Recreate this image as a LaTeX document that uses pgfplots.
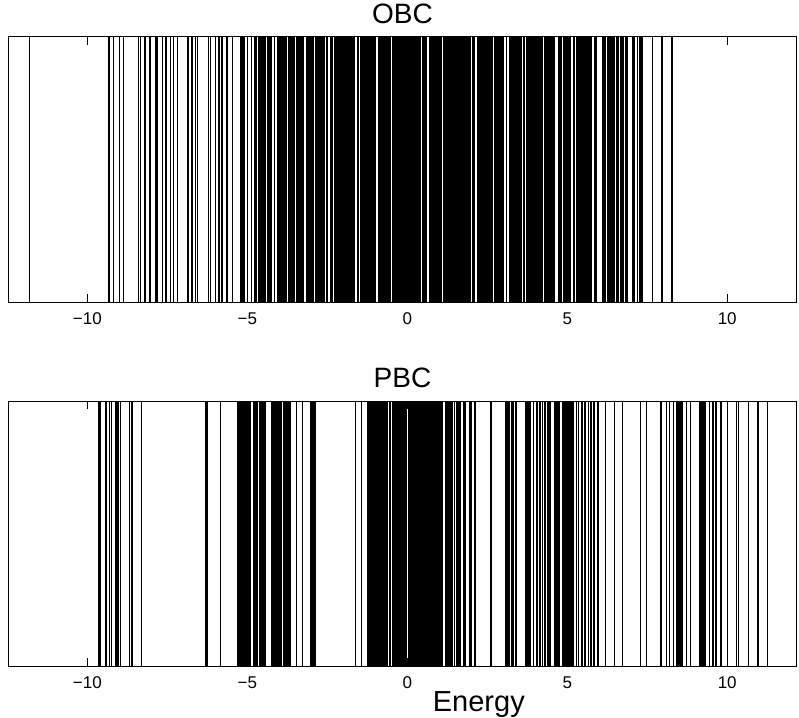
\documentclass[border=0pt]{standalone}
\usepackage{fontspec}
\setmainfont{Liberation Sans}
\usepackage{pgfplots}
\pgfplotsset{compat=1.18}
\pgfplotsset{
  spec/.style={
    scale only axis, width=393.5pt, height=132.5pt,
    xmin=-12.45, xmax=12.15, ymin=0, ymax=1,
    ytick=\empty,
    xtick={-10,-5,0,5,10},
    xticklabels={−10,−5,0,5,10},
    xtick align=inside, xtick pos=both,
    major tick length=4pt,
    axis on top,
    axis line style={line width=0.5pt},
    every tick/.style={black, line width=0.5pt},
    xticklabel style={font=\fontsize{8.5}{10}\selectfont, yshift=-2pt},
    title style={font=\fontsize{14}{16}\selectfont, yshift=-3pt},
  },
  iso/.style={ycomb, black, line width=0.7pt, mark=none},
  dense/.style={ycomb, black, line width=0.95pt, mark=none},
}
\begin{document}
\begin{tikzpicture}
\useasboundingbox (-4.5pt,-208pt) rectangle (395pt,151pt);
% ---------------- OBC ----------------
\begin{axis}[spec, at={(0,0)}, anchor=south west, title={OBC}]
\addplot[iso] coordinates {
(-11.80,1)(-9.33,1)(-9.18,1)(-9.00,1)(-8.88,1)(-8.40,1)(-8.34,1)(-8.20,1)
(-8.04,1)(-7.85,1)(-7.81,1)(-7.65,1)(-7.54,1)(-7.41,1)(-7.31,1)(-7.19,1)
(-6.85,1)(-6.73,1)(-6.62,1)(-6.56,1)(-6.21,1)(-6.16,1)(-6.00,1)(-5.88,1)
(-5.79,1)(-5.63,1)(-5.46,1)(-5.21,1)(-5.17,1)(-5.13,1)(-5.09,1)(-4.99,1)
(-4.87,1)(-4.78,1)(-4.73,1)
(6.10,1)(6.15,1)(6.20,1)(6.25,1)(6.30,1)(6.33,1)(6.40,1)(6.44,1)(6.48,1)
(6.53,1)(6.58,1)(6.61,1)(6.66,1)(6.70,1)(6.74,1)(6.83,1)(6.87,1)(7.04,1)
(7.09,1)(7.20,1)(7.27,1)(7.33,1)(7.36,1)(7.66,1)(7.96,1)(8.27,1)
};
\addplot[dense] coordinates {
(-4.65,1)(-4.60,1)(-4.55,1)(-4.50,1)(-4.45,1)(-4.35,1)(-4.30,1)(-4.25,1)
(-4.15,1)(-4.05,1)(-4.00,1)(-3.95,1)(-3.90,1)(-3.85,1)(-3.80,1)(-3.70,1)
(-3.65,1)(-3.60,1)(-3.55,1)(-3.45,1)(-3.40,1)(-3.35,1)(-3.30,1)(-3.25,1)
(-3.15,1)(-3.10,1)(-3.05,1)(-3.00,1)(-2.95,1)(-2.85,1)(-2.80,1)(-2.75,1)
(-2.70,1)(-2.65,1)(-2.60,1)(-2.50,1)(-2.40,1)(-2.35,1)(-2.25,1)(-2.20,1)
(-2.15,1)(-2.10,1)(-2.05,1)(-2.00,1)(-1.95,1)(-1.90,1)(-1.85,1)(-1.80,1)
(-1.75,1)(-1.70,1)(-1.65,1)(-1.55,1)(-1.45,1)(-1.40,1)(-1.35,1)(-1.30,1)
(-1.25,1)(-1.20,1)(-1.15,1)(-1.10,1)(-1.05,1)(-1.00,1)(-0.90,1)(-0.85,1)
(-0.80,1)(-0.75,1)(-0.70,1)(-0.65,1)(-0.60,1)(-0.55,1)(-0.45,1)(-0.40,1)
(-0.35,1)(-0.30,1)(-0.25,1)(-0.20,1)(-0.15,1)(-0.10,1)(-0.05,1)(0.00,1)
(0.05,1)(0.10,1)(0.15,1)(0.20,1)(0.25,1)(0.30,1)(0.35,1)(0.40,1)
(0.50,1)(0.55,1)(0.60,1)(0.70,1)(0.75,1)(0.80,1)(0.85,1)(0.90,1)
(0.95,1)(1.00,1)(1.05,1)(1.15,1)(1.20,1)(1.25,1)(1.30,1)(1.35,1)
(1.40,1)(1.45,1)(1.50,1)(1.55,1)(1.60,1)(1.65,1)(1.70,1)(1.75,1)
(1.80,1)(1.85,1)(1.90,1)(1.95,1)(2.05,1)(2.10,1)(2.20,1)(2.25,1)
(2.30,1)(2.35,1)(2.40,1)(2.45,1)(2.50,1)(2.55,1)(2.60,1)(2.65,1)
(2.75,1)(2.80,1)(2.85,1)(2.90,1)(2.95,1)(3.00,1)(3.10,1)(3.20,1)
(3.25,1)(3.30,1)(3.35,1)(3.40,1)(3.45,1)(3.50,1)(3.55,1)(3.65,1)
(3.75,1)(3.80,1)(3.85,1)(3.90,1)(3.95,1)(4.00,1)(4.05,1)(4.10,1)
(4.15,1)(4.20,1)(4.30,1)(4.35,1)(4.40,1)(4.45,1)(4.50,1)(4.55,1)
(4.60,1)(4.75,1)(4.80,1)(4.90,1)(4.95,1)(5.00,1)(5.05,1)(5.10,1)
(5.20,1)(5.30,1)(5.35,1)(5.40,1)(5.45,1)(5.50,1)(5.55,1)(5.60,1)
(5.65,1)(5.70,1)(5.75,1)(5.85,1)(5.90,1)
};
\end{axis}
% ---------------- PBC ----------------
\begin{axis}[spec, at={(0,-182pt)}, anchor=south west, title={PBC},
  xlabel={Energy},
  every axis x label/.style={at={(rel axis cs:0.597,0)}, anchor=north,
    yshift=-9pt, font=\fontsize{14.5}{16}\selectfont}]
\addplot[iso] coordinates {
(-9.66,1)(-9.61,1)(-9.44,1)(-9.40,1)(-9.31,1)(-9.24,1)(-9.10,1)(-9.04,1)
(-8.96,1)(-8.69,1)(-8.61,1)(-8.31,1)(-6.31,1)(-6.26,1)(-5.84,1)
(-3.86,1)(-3.47,1)(-3.28,1)(-1.61,1)(-1.43,1)(-0.98,1)(1.47,1)(2.615,1)
(3.27,1)(3.31,1)(3.40,1)(3.69,1)(3.74,1)(3.79,1)(3.83,1)(3.94,1)(4.06,1)
(4.15,1)(4.23,1)(4.31,1)(4.40,1)(4.46,1)(4.62,1)(5.28,1)(5.35,1)(5.46,1)
(5.56,1)(5.66,1)(5.74,1)(5.84,1)(5.96,1)(6.20,1)(6.48,1)(6.73,1)(7.28,1)
(7.47,1)(7.93,1)(8.10,1)(8.19,1)(8.33,1)(8.73,1)(8.86,1)(9.15,1)(9.21,1)
(9.28,1)(9.33,1)(9.44,1)(9.56,1)(9.65,1)(9.80,1)(10.01,1)(10.29,1)
(10.35,1)(10.67,1)(10.96,1)(11.26,1)
};
\addplot[dense] coordinates {
(-5.30,1)(-5.25,1)(-5.20,1)(-5.15,1)(-5.10,1)(-5.05,1)(-5.00,1)(-4.95,1)
(-4.90,1)(-4.80,1)(-4.75,1)(-4.70,1)(-4.60,1)(-4.55,1)(-4.50,1)(-4.45,1)
(-4.24,1)(-4.19,1)(-4.14,1)(-4.09,1)(-4.04,1)(-3.99,1)(-3.94,1)
(-3.79,1)(-3.74,1)(-3.69,1)(-3.66,1)
(-3.00,1)(-2.95,1)(-2.90,1)(-2.87,1)
(-1.22,1)(-1.17,1)(-1.12,1)(-1.07,1)(-1.05,1)
(-0.91,1)(-0.86,1)(-0.81,1)(-0.76,1)(-0.71,1)(-0.66,1)(-0.63,1)
(-0.54,1)
(-0.45,1)(-0.40,1)(-0.35,1)(-0.30,1)(-0.25,1)(-0.20,1)(-0.15,1)(-0.10,1)
(-0.05,1)(0.05,1)(0.10,1)(0.15,1)(0.20,1)(0.25,1)(0.30,1)(0.35,1)
(0.40,1)(0.45,1)(0.50,1)(0.55,1)(0.60,1)(0.65,1)(0.70,1)(0.75,1)
(0.80,1)(0.85,1)(0.90,1)(0.95,1)(1.00,1)(1.05,1)(1.10,1)
(1.20,1)(1.25,1)(1.30,1)(1.35,1)(1.40,1)
(1.54,1)(1.59,1)(1.64,1)(1.77,1)(1.82,1)(1.96,1)(2.00,1)(2.11,1)
(3.09,1)(3.14,1)(3.19,1)
(4.67,1)(4.72,1)(4.75,1)(4.85,1)(4.90,1)(4.95,1)(5.00,1)(5.05,1)
(5.10,1)(5.15,1)(5.19,1)
(8.42,1)(8.46,1)(8.50,1)(8.54,1)(8.58,1)
};
\end{axis}
\end{tikzpicture}
\end{document}
